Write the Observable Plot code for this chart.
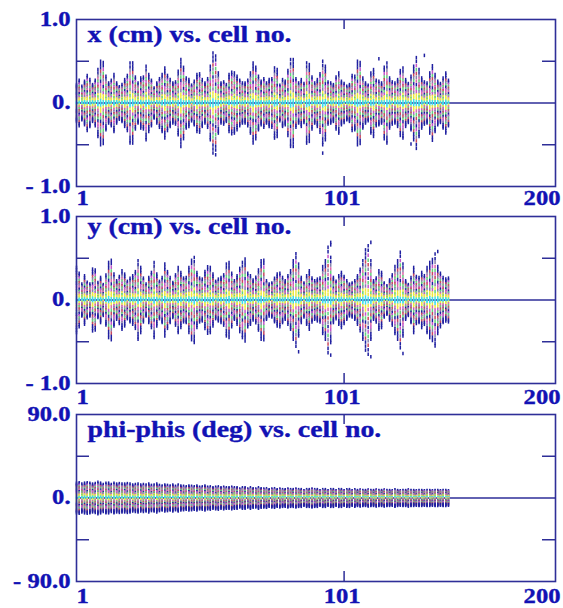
<!DOCTYPE html>
<html><head><meta charset="utf-8">
<script src="https://cdn.jsdelivr.net/npm/d3@7"></script>
<script src="https://cdn.jsdelivr.net/npm/@observablehq/plot@0.6"></script>
<style>
html,body{margin:0;padding:0;background:#fff;}
#chart{position:relative;width:563px;height:608px;overflow:hidden;}
#chart svg{position:absolute;left:0;overflow:visible;}
</style></head><body><div id="chart"></div>
<script>
// ---------- data ----------
const titles = ["x (cm) vs. cell no.", "y (cm) vs. cell no.", "phi-phis (deg) vs. cell no."];
const xTickValues = [1, 101, 180];
const xTickLabels = ["1", "101", "200"];
const cmTickValues = [-1, 0, 1];
const cmTickLabels = ["- 1.0", "0.", "1.0"];
const cmMinorTicks = [-0.5, 0.5];
const degTickValues = [-90, 0, 90];
const degTickLabels = ["- 90.0", "0.", "90.0"];
const degMinorTicks = [-45, 45];

// envelope (half-extent) of the particle column in each cell, cells 1..140
const xAmp = [
 0.22,0.28,0.20,0.26,0.34,0.28,0.22,0.28,0.40,0.50,
 0.50,0.32,0.24,0.28,0.34,0.24,0.20,0.22,0.28,0.34,
 0.48,0.48,0.32,0.24,0.30,0.32,0.44,0.34,0.28,0.18,
 0.24,0.30,0.34,0.42,0.34,0.28,0.24,0.26,0.38,0.52,
 0.44,0.30,0.28,0.22,0.26,0.34,0.36,0.28,0.24,0.30,
 0.44,0.60,0.58,0.36,0.24,0.26,0.22,0.34,0.38,0.36,
 0.32,0.28,0.24,0.24,0.28,0.36,0.48,0.44,0.32,0.26,
 0.30,0.24,0.28,0.30,0.42,0.40,0.22,0.28,0.26,0.40,
 0.52,0.52,0.30,0.24,0.28,0.24,0.48,0.46,0.32,0.24,
 0.28,0.36,0.50,0.44,0.26,0.24,0.22,0.32,0.36,0.26,
 0.24,0.20,0.22,0.34,0.32,0.50,0.50,0.30,0.24,0.22,
 0.36,0.40,0.28,0.26,0.24,0.44,0.48,0.30,0.26,0.24,
 0.28,0.40,0.42,0.28,0.24,0.32,0.44,0.56,0.40,0.30,
 0.26,0.24,0.36,0.46,0.34,0.26,0.24,0.30,0.36,0.28];
const yAmp = [
 0.39,0.33,0.19,0.29,0.22,0.19,0.37,0.37,0.21,0.27,
 0.19,0.30,0.45,0.49,0.31,0.23,0.29,0.35,0.31,0.23,
 0.26,0.29,0.35,0.47,0.39,0.27,0.19,0.27,0.34,0.45,
 0.31,0.23,0.27,0.43,0.35,0.27,0.21,0.31,0.39,0.33,
 0.27,0.27,0.39,0.49,0.51,0.33,0.27,0.25,0.34,0.41,
 0.39,0.31,0.23,0.25,0.27,0.31,0.43,0.45,0.33,0.23,
 0.29,0.39,0.45,0.49,0.33,0.29,0.24,0.28,0.36,0.47,
 0.49,0.23,0.19,0.21,0.26,0.31,0.33,0.27,0.23,0.30,
 0.35,0.47,0.57,0.43,0.27,0.21,0.29,0.35,0.27,0.23,
 0.25,0.27,0.40,0.47,0.65,0.51,0.27,0.23,0.29,0.33,
 0.29,0.23,0.19,0.21,0.23,0.29,0.38,0.47,0.60,0.67,
 0.47,0.23,0.27,0.35,0.33,0.21,0.17,0.24,0.31,0.40,
 0.47,0.59,0.43,0.23,0.19,0.27,0.39,0.29,0.27,0.33,
 0.30,0.39,0.45,0.50,0.55,0.40,0.33,0.27,0.25,0.27];
const phiAmp = [
 16,17,15,16,17,16,15,16,17,16,
 15,16,16,15,16,15,16,15,15,16,
 15,14,15,15,14,15,14,15,14,14,
 15,14,13,14,14,13,14,13,14,13,
 13,12,13,13,12,13,12,12,13,12,
 12,11,12,12,11,12,11,11,12,11,
 11,10,11,11,10,11,10,10,11,10,
 10,10,9,10,10,9,10,9,9,10,
 9,9,10,9,9,8,9,9,10,9,
 9,8,9,9,8,9,9,8,9,9,
 8,9,9,8,9,8,9,8,8,9,
 8,8,9,8,8,9,8,8,8,9,
 8,8,8,8,9,8,8,8,8,8,
 8,8,8,8,8,8,8,8,8,8];

// stray points outside the columns
const xOutCell = [53, 93, 114, 126, 131];
const xOutVal  = [-0.62, -0.60, 0.53, -0.49, 0.57];
const yOutCell = [84, 96, 96, 96, 111, 111, 123, 136];
const yOutVal  = [-0.62, 0.66, 0.69, -0.66, 0.69, -0.68, -0.64, 0.58];
const phiOutCell = [];
const phiOutVal = [];

// relative positions of the tracked particles inside a column (three recurring patterns), and their colours
const fracA = [1.00,0.92,0.84,0.76,0.68,0.60,0.52,0.44,0.36,0.28,0.20,0.13,0.06,0.0,-0.06,-0.13,-0.20,-0.28,-0.36,-0.44,-0.52,-0.60,-0.68,-0.76,-0.84,-0.92,-1.0];
const colA  = ["N","N","N","R","S","G","N","M","P","S","Y","Y","C","C","C","Y","Y","M","G","N","R","S","G","R","N","N","N"];
const fracB = [0.97,0.89,0.80,0.71,0.63,0.55,0.47,0.39,0.31,0.24,0.17,0.10,0.03,-0.03,-0.10,-0.17,-0.25,-0.33,-0.41,-0.49,-0.57,-0.65,-0.73,-0.81,-0.89,-0.97];
const colB  = ["N","N","M","G","R","S","P","N","G","M","Y","Y","C","C","Y","P","G","R","S","N","M","G","S","R","N","N"];
const fracC = [1.0,0.90,0.82,0.73,0.65,0.57,0.49,0.41,0.33,0.25,0.18,0.11,0.04,-0.02,-0.08,-0.15,-0.22,-0.30,-0.38,-0.46,-0.54,-0.62,-0.70,-0.78,-0.86,-0.94,-1.0];
const colC  = ["N","N","S","P","G","M","R","G","S","Y","G","Y","C","C","C","Y","M","S","R","G","N","P","M","S","N","N","N"];

// ---------- styling ----------
const palette = {N: "#2020a0", R: "#c8485f", M: "#c455cc", G: "#62d47a", Y: "#eee840", C: "#3edcec", S: "#8680ac", P: "#da6aaa"};
const patterns = [[fracA, colA], [fracB, colB], [fracC, colC]];
const FRAME = "#2e2e98";
const TEXT = "#1212b4";
const W = 563, H = 200, mL = 76, mR = 8, mT = 19, mB = 14;
const pw = W - mL - mR, ph = H - mT - mB;
const vdash = {draw(ctx, size) { const h = Math.sqrt(size) / 2; ctx.moveTo(0, -h); ctx.lineTo(0, h); }};

const panels = [
  {title: titles[0], amp: xAmp, outCell: xOutCell, outVal: xOutVal, domain: [-1, 1], ticks: cmTickValues, labels: cmTickLabels, minor: cmMinorTicks, top: 0, titleDy: 6, xPad: 4},
  {title: titles[1], amp: yAmp, outCell: yOutCell, outVal: yOutVal, domain: [-1, 1], ticks: cmTickValues, labels: cmTickLabels, minor: cmMinorTicks, top: 197, titleDy: 1, xPad: 6},
  {title: titles[2], amp: phiAmp, outCell: phiOutCell, outVal: phiOutVal, domain: [-90, 90], ticks: degTickValues, labels: degTickLabels, minor: degMinorTicks, top: 395, titleDy: 6, xPad: 7}
];

function makePanel(cfg) {
  const pts = [];
  cfg.amp.forEach((a, i) => {
    const [fr, co] = patterns[i % patterns.length];
    fr.forEach((f, j) => pts.push({cell: i + 1, v: a * f, c: palette[co[j]]}));
  });
  cfg.outCell.forEach((c, k) => pts.push({cell: c, v: cfg.outVal[k], c: palette.N}));
  const lab = d => cfg.labels[cfg.ticks.indexOf(d)];
  const xl = d => xTickLabels[xTickValues.indexOf(d)];
  const common = {tickSize: 0, fontSize: 20, fill: TEXT, label: null};
  return Plot.plot({
    width: W, height: H, marginLeft: mL, marginRight: mR, marginTop: mT, marginBottom: mB,
    style: {fontFamily: "'Liberation Serif', 'Times New Roman', serif", fontWeight: "bold", fontSize: "20px", color: TEXT, background: "transparent", overflow: "visible"},
    x: {domain: [xTickValues[0], xTickValues[2]], axis: null, label: null},
    y: {domain: cfg.domain, axis: null, label: null},
    color: {type: "identity"},
    marks: [
      Plot.ruleY([0], {stroke: FRAME, strokeWidth: 1.3}),
      Plot.dot(pts, {x: "cell", y: "v", stroke: "c", fill: "none", symbol: vdash, r: 2.0, strokeWidth: 1.5}),
      Plot.tickY(cfg.minor, {y: d => d, insetRight: pw - 13, stroke: FRAME, strokeWidth: 1.5}),
      Plot.tickY(cfg.minor, {y: d => d, insetLeft: pw - 13, stroke: FRAME, strokeWidth: 1.5}),
      Plot.tickX([xTickValues[1]], {x: d => d, insetBottom: ph - 10, stroke: FRAME, strokeWidth: 1.5}),
      Plot.tickX([xTickValues[1]], {x: d => d, insetTop: ph - 10, stroke: FRAME, strokeWidth: 1.5}),
      Plot.frame({stroke: FRAME, strokeWidth: 1.6}),
      Plot.axisY(cfg.ticks, {anchor: "left", tickPadding: 6, tickFormat: lab, ...common}),
      Plot.axisX([xTickValues[0]], {anchor: "bottom", tickPadding: cfg.xPad, tickFormat: xl, textAnchor: "start", ...common}),
      Plot.axisX([xTickValues[1]], {anchor: "bottom", tickPadding: cfg.xPad, tickFormat: xl, dx: -2, ...common}),
      Plot.axisX([xTickValues[2]], {anchor: "bottom", tickPadding: cfg.xPad, tickFormat: xl, textAnchor: "end", dx: 5, ...common}),
      Plot.text([cfg.title], {text: d => d, frameAnchor: "top-left", textAnchor: "start", lineAnchor: "top", dx: 11, dy: cfg.titleDy, fontSize: 23, fill: TEXT})
    ]
  });
}

const root = document.getElementById("chart");
panels.forEach(cfg => {
  const svg = makePanel(cfg);
  svg.style.top = cfg.top + "px";
  root.appendChild(svg);
  // widen glyphs like the original stretched, heavy lettering
  svg.querySelectorAll('g[aria-label="text"] text').forEach(t => {
    const w = t.getComputedTextLength();
    t.setAttribute("textLength", (w * 1.21).toFixed(1));
    t.setAttribute("lengthAdjust", "spacingAndGlyphs");
    t.setAttribute("stroke", TEXT);
    t.setAttribute("stroke-width", "0.35");
  });
  svg.querySelectorAll('g[aria-label$="tick label"] text').forEach(t => {
    const w = t.getComputedTextLength();
    t.setAttribute("textLength", (w * 1.23).toFixed(1));
    t.setAttribute("lengthAdjust", "spacingAndGlyphs");
    t.setAttribute("stroke", TEXT);
    t.setAttribute("stroke-width", "0.35");
  });
});
</script></body></html>
